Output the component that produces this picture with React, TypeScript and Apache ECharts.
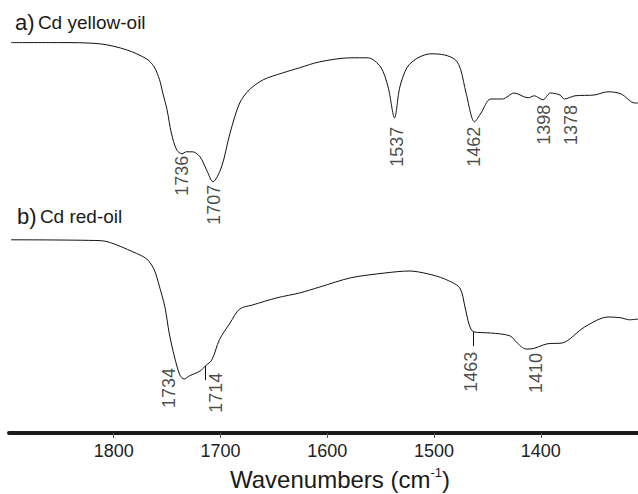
import React, { useEffect, useRef } from "react";
import * as echarts from "echarts";

// Wavenumber axis (cm-1)
const xTicks = [1800, 1700, 1600, 1500, 1400];
const xMin = 1309;
const xMax = 1898;

// Spectrum a) Cd yellow-oil : [wavenumber, transmittance (a.u.)]
const specA: [number, number][] = [
  [1896, 97.6], [1851, 97.6], [1813, 97.3], [1788, 95.8], [1769, 93.5], [1762, 91.5],
  [1757, 88.3], [1754, 85.0], [1750, 80.8], [1746, 75.0], [1741, 70.8], [1736, 69.8],
  [1732, 70.3], [1726, 70.3], [1719, 69.0], [1713, 65.8], [1707, 62.8], [1699, 66.5],
  [1691, 75.0], [1682, 82.5], [1673, 85.8], [1660, 88.3], [1642, 90.0], [1626, 91.3],
  [1607, 92.8], [1578, 93.8], [1562, 93.8], [1550, 91.5], [1543, 86.5], [1537, 78.8],
  [1532, 86.5], [1525, 91.5], [1515, 93.8], [1503, 94.8], [1490, 94.5], [1480, 93.3],
  [1475, 90.8], [1470, 85.0], [1462, 77.8], [1456, 80.0], [1447, 83.5], [1436, 83.5],
  [1425, 85.0], [1412, 83.8], [1406, 84.3], [1398, 83.3], [1391, 85.0], [1382, 84.5],
  [1378, 83.5], [1368, 84.3], [1350, 84.5], [1337, 85.3], [1325, 84.8], [1312, 82.5],
  [1309, 82.5],
];

// Spectrum b) Cd red-oil
const specB: [number, number][] = [
  [1896, 48.3], [1813, 48.1], [1803, 47.6], [1782, 45.3], [1769, 43.5], [1762, 40.8],
  [1757, 36.5], [1752, 31.5], [1748, 25.0], [1743, 19.0], [1738, 14.5], [1734, 13.5],
  [1729, 14.3], [1719, 15.5], [1714, 16.8], [1708, 18.3], [1701, 23.3], [1691, 27.5],
  [1682, 31.0], [1670, 32.0], [1647, 33.8], [1626, 35.0], [1607, 36.5], [1578, 38.8],
  [1546, 40.0], [1523, 40.5], [1506, 39.8], [1490, 38.5], [1476, 36.3], [1471, 31.5],
  [1467, 27.0], [1463, 25.3], [1447, 25.0], [1429, 24.3], [1422, 22.5], [1414, 21.0],
  [1410, 21.0], [1394, 22.3], [1380, 22.5], [1359, 26.5], [1337, 29.0], [1325, 28.8],
  [1317, 28.3], [1309, 28.5],
];

// Peak annotations
const peaksA = [1736, 1707, 1537, 1462, 1398, 1378];
const peaksB = [1734, 1714, 1463, 1410];
const tickedPeaksB = [1714, 1463];

// Layout (screen pixel offsets [dx, dy] of each peak label's top from its point)
const offsetsA: [number, number][] = [[0, 2], [1, 3], [2, 9], [-1, 5], [1, 5], [7, 6]];
const offsetsB: [number, number][] = [[-15, -11], [11, 7], [-3, 20], [6, 4]];
const peakTickLen = 3.6;

const FONT = "Liberation Sans, Arial, Helvetica, sans-serif";

function valueAt(spec: [number, number][], w: number): number {
  for (let i = 0; i < spec.length - 1; i++) {
    const [w0, v0] = spec[i];
    const [w1, v1] = spec[i + 1];
    if ((w <= w0 && w >= w1) || (w >= w0 && w <= w1)) {
      if (w0 === w1) return v0;
      return v0 + ((w - w0) / (w1 - w0)) * (v1 - v0);
    }
  }
  return spec[spec.length - 1][1];
}

function labelSeries(spec: [number, number][], peaks: number[], offsets: [number, number][]) {
  return {
    type: "scatter",
    symbolSize: 0,
    silent: true,
    z: 5,
    data: peaks.map((w, i) => ({
      value: [w, valueAt(spec, w)],
      // label offset is expressed in the rotated label frame
      label: { offset: [-offsets[i][1], offsets[i][0]] },
    })),
    label: {
      show: true,
      position: "inside",
      rotate: 90,
      align: "right",
      verticalAlign: "middle",
      fontFamily: FONT,
      fontSize: 18,
      color: "#1a1a1a",
      formatter: (p: any) => String(p.value[0]),
    },
  };
}

export default function App() {
  const ref = useRef<HTMLDivElement>(null);
  useEffect(() => {
    if (!ref.current) return;
    const chart = echarts.init(ref.current, null, { renderer: "svg" });
    chart.setOption({
      animation: false,
      backgroundColor: "#ffffff",
      grid: { left: 9, right: 0, top: 33, bottom: 61 },
      xAxis: {
        type: "value",
        min: xMin,
        max: xMax,
        inverse: true,
        axisLine: { show: true, lineStyle: { color: "#1a1a1a", width: 4 } },
        axisTick: {
          show: true,
          length: 5,
          customValues: xTicks,
          lineStyle: { color: "#555", width: 1 },
        },
        axisLabel: {
          show: true,
          customValues: xTicks,
          fontFamily: FONT,
          fontSize: 18,
          color: "#222",
          margin: 9,
          formatter: (v: number) => String(v),
        },
        splitLine: { show: false },
      },
      yAxis: { type: "value", min: 0, max: 100, show: false },
      series: [
        {
          type: "line",
          data: specA,
          showSymbol: false,
          smooth: 0.3,
          lineStyle: { color: "#111", width: 1 },
          silent: true,
        },
        {
          type: "line",
          data: specB,
          showSymbol: false,
          smooth: 0.3,
          lineStyle: { color: "#111", width: 1 },
          silent: true,
          markLine: {
            silent: true,
            symbol: "none",
            label: { show: false },
            lineStyle: { color: "#111", width: 1, type: "solid" },
            data: tickedPeaksB.map((w) => [
              { coord: [w, valueAt(specB, w)] },
              { coord: [w, valueAt(specB, w) - peakTickLen] },
            ]),
          },
        },
        labelSeries(specA, peaksA, offsetsA),
        labelSeries(specB, peaksB, offsetsB),
      ],
      graphic: [
        {
          type: "text",
          left: 15,
          top: 11,
          style: {
            text: "{p|a)} {t|Cd yellow-oil}",
            rich: {
              p: { fontFamily: FONT, fontSize: 22, fill: "#1a1a1a" },
              t: { fontFamily: FONT, fontSize: 19, fill: "#1a1a1a" },
            },
          },
        },
        {
          type: "text",
          left: 17,
          top: 205,
          style: {
            text: "{p|b)} {t|Cd red-oil}",
            rich: {
              p: { fontFamily: FONT, fontSize: 22, fill: "#1a1a1a" },
              t: { fontFamily: FONT, fontSize: 19, fill: "#1a1a1a" },
            },
          },
        },
        {
          type: "text",
          left: 230,
          top: 466,
          style: {
            text: "{t|Wavenumbers (cm}{s|-1}{t|)}",
            rich: {
              t: { fontFamily: FONT, fontSize: 24, fill: "#1a1a1a", lineHeight: 26 },
              s: { fontFamily: FONT, fontSize: 13, fill: "#1a1a1a", verticalAlign: "top" },
            },
          },
        },
      ],
    });
    return () => chart.dispose();
  }, []);
  return (
    <div
      ref={ref}
      style={{ position: "fixed", left: 0, top: 0, width: 638, height: 494, background: "#fff" }}
    />
  );
}
